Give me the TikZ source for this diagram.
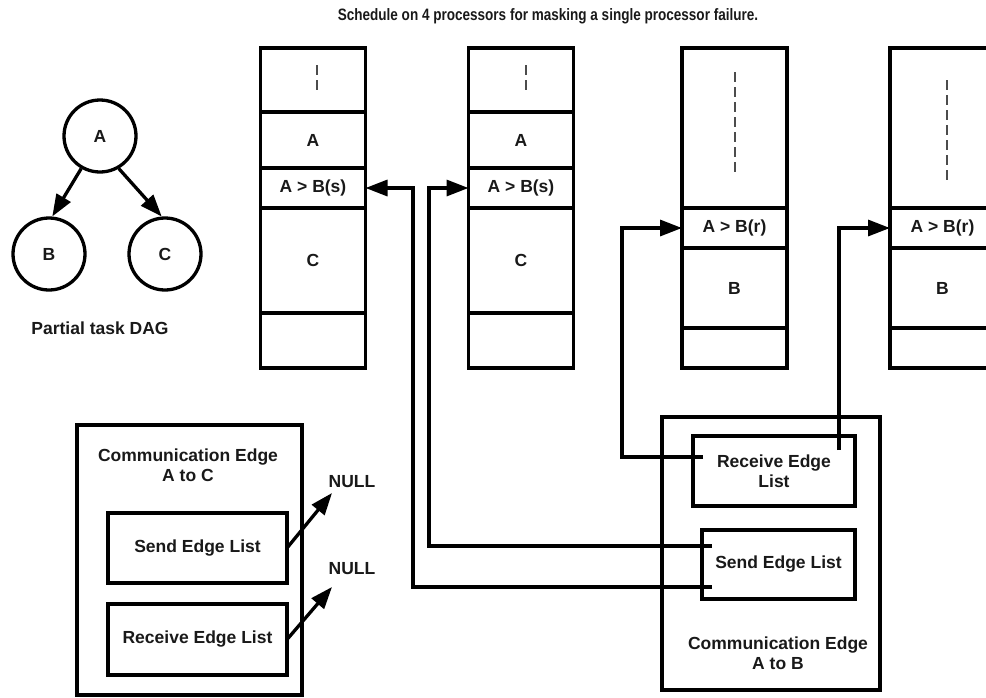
\documentclass[tikz,border=0pt]{standalone}
\usepackage{fontspec}
\setmainfont{Liberation Sans}
\usepackage{graphicx}
\usetikzlibrary{arrows.meta}
\begin{document}
\begin{tikzpicture}[x=1pt,y=-1pt,
  every node/.style={font=\fontsize{17.5}{20.5}\selectfont\bfseries, text=black!90},
  lw/.style={line width=3.3pt},
  cell/.style={draw, lw, minimum width=105pt, inner sep=0pt, outer sep=0pt},
  box/.style={draw, lw, inner sep=0pt, outer sep=0pt, align=center},
  lbl/.style={align=center, inner sep=0pt},
  circ/.style={draw, lw, circle, minimum size=72pt, inner sep=0pt},
  conn/.style={lw, -{Triangle[length=22pt,width=16pt]}},
  dashline/.style={line width=1.4pt, draw=black!70, dash pattern=on 10pt off 5pt}
]
\useasboundingbox (0,0) rectangle (986,697);
\clip (0,0) rectangle (986,697);

% title
\node[lbl] (title) at (548,16) {\fontsize{16.5}{19}\selectfont\scalebox{0.82}[1]{Schedule on 4 processors for masking a single processor failure.}};

% DAG
\node[circ] (A) at (100,136) {A};
\node[circ] (B) at (49,254) {B};
\node[circ] (C) at (165,254) {C};
\draw[conn] (A.240) -- (B.85);
\draw[conn] (A.300) -- (C.95);
\node[lbl] (dag) at (100,328) {Partial task DAG};

% processor 1
\node[cell, minimum height=64pt] (p1t) at (313,80) {};
\node[cell, minimum height=56pt] (p1a) at (313,140) {A};
\node[cell, minimum height=40pt] (p1s) at (313,188) {A > B(s)};
\node[cell, minimum height=105pt] (p1c) at (313,260.5) {C};
\node[cell, minimum height=55pt] (p1e) at (313,340.5) {};
\draw[dashline] (317,65) -- (317,90);

% processor 2
\node[cell, minimum height=64pt] (p2t) at (521,80) {};
\node[cell, minimum height=56pt] (p2a) at (521,140) {A};
\node[cell, minimum height=40pt] (p2s) at (521,188) {A > B(s)};
\node[cell, minimum height=105pt] (p2c) at (521,260.5) {C};
\node[cell, minimum height=55pt] (p2e) at (521,340.5) {};
\draw[dashline] (526,65) -- (526,90);

% processor 3
\node[cell, minimum height=160pt] (p3t) at (734.5,128) {};
\node[cell, minimum height=40pt] (p3s) at (734.5,228) {A > B(r)};
\node[cell, minimum height=80pt] (p3b) at (734.5,288) {B};
\node[cell, minimum height=40pt] (p3e) at (734.5,348) {};
\draw[dashline] (735,72) -- (735,172);

% processor 4
\node[cell, minimum height=160pt] (p4t) at (942.5,128) {};
\node[cell, minimum height=40pt] (p4s) at (942.5,228) {A > B(r)};
\node[cell, minimum height=80pt] (p4b) at (942.5,288) {B};
\node[cell, minimum height=40pt] (p4e) at (942.5,348) {};
\draw[dashline] (947,80) -- (947,180);

% Communication edge A to C
\node[box, minimum width=225pt, minimum height=270pt] (ac) at (189.5,560) {};
\node[lbl] (aclbl) at (188,465) {Communication Edge\\A to C};
\node[box, minimum width=179pt, minimum height=70pt] (sendAC) at (197.5,548) {Send Edge List};
\node[box, minimum width=179pt, minimum height=71pt] (recvAC) at (197.5,639.5) {Receive Edge List};
\node[lbl] (null1) at (352,482) {NULL};
\node[lbl] (null2) at (352,569) {NULL};
\coordinate (n1) at (332,493);
\coordinate (n2) at (332,587);
\draw[conn] (sendAC.east) -- (n1);
\draw[conn] (recvAC.east) -- (n2);

% Communication edge A to B
\node[box, minimum width=218pt, minimum height=273pt] (ab) at (771,553.5) {};
\node[lbl] (ablbl) at (778,653) {Communication Edge\\A to B};
\node[box, minimum width=162pt, minimum height=70pt] (recvAB) at (774,471) {Receive Edge\\List};
\node[box, minimum width=153pt, minimum height=69pt] (sendAB) at (778.5,564.5) {Send Edge List};

\coordinate (sa) at (712,546);
\coordinate (sb) at (712,587);
\coordinate (ra) at (703,457);
\coordinate (rb) at (839,450);
\draw[conn] (sa) -- (429,546) |- (p2s.west);
\draw[conn] (sb) -- (413,587) |- (p1s.east);
\draw[conn] (ra) -- (622,457) |- (p3s.west);
\draw[conn] (rb) |- (p4s.west);
\end{tikzpicture}
\end{document}
